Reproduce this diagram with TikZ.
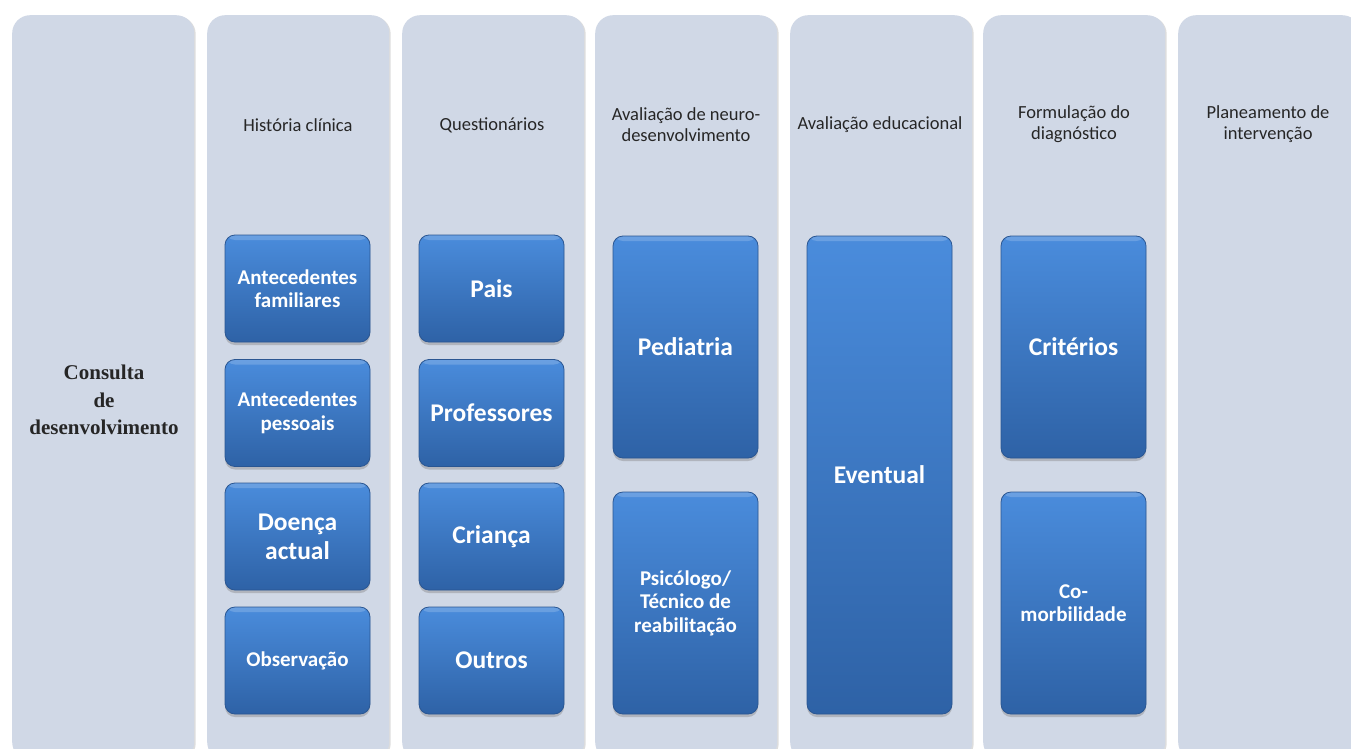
\documentclass[tikz,border=0pt]{standalone}
\usepackage{fontspec}
\setmainfont{Carlito}
\newfontfamily\serifbold{Liberation Serif}
\usetikzlibrary{shadows}
\definecolor{colbg}{HTML}{D0D8E6}
\definecolor{btop}{HTML}{4A8CDC}
\definecolor{bbot}{HTML}{2E62A6}
\definecolor{bedge}{HTML}{2A5692}
\definecolor{headtext}{HTML}{262626}
\tikzset{
  colbox/.style={fill=colbg, rounded corners=18pt, minimum width=182pt, minimum height=745pt,
    anchor=north west, inner sep=0pt,
    drop shadow={opacity=0.22, shadow xshift=1.5pt, shadow yshift=-1pt, fill=black!60}},
  bluebox/.style={rounded corners=10pt, minimum width=145pt, inner sep=2pt,
    top color=btop, bottom color=bbot, draw=bedge, line width=0.8pt,
    text=white, align=center,
    path picture={\fill[white,opacity=0.18] (path picture bounding box.north west) rectangle ([yshift=-5pt]path picture bounding box.north east);},
    drop shadow={opacity=0.4, shadow xshift=0pt, shadow yshift=-3pt}},
  smalltxt/.style={font=\bfseries\fontsize{21}{23.5}\selectfont},
  bigtxt/.style={font=\bfseries\fontsize{25.5}{29}\selectfont},
  head/.style={font=\fontsize{18.5}{21}\selectfont, text=headtext, align=center}
}
\begin{document}
\begin{tikzpicture}[x=1pt,y=-1pt]
\useasboundingbox (0,0) rectangle (1351,749);
\fill[white] (0,0) rectangle (1351,749);
\clip (0,0) rectangle (1351,749);
% columns
\node[colbox] (c1) at (12,15) {};
\node[colbox] (c2) at (207,15) {};
\node[colbox] (c3) at (402,15) {};
\node[colbox] (c4) at (595,15) {};
\node[colbox] (c5) at (790,15) {};
\node[colbox] (c6) at (983,15) {};
\node[colbox] (c7) at (1178,15) {};
% headers
\node[font=\serifbold\bfseries\fontsize{21}{27.5}\selectfont, text=headtext, align=center] (h1) at (104,400) {Consulta\\de\\desenvolvimento};
\node[head] (h2) at (298,125) {História clínica};
\node[head] (h3) at (492,125) {Questionários};
\node[head] (h4) at (686,124.5) {Avaliação de neuro-\\desenvolvimento};
\node[head] (h5) at (880,125) {Avaliação educacional};
\node[head] (h6) at (1074,124.5) {Formulação do\\diagnóstico};
\node[head] (h7) at (1268,124.5) {Planeamento de\\intervenção};
% column 2
\node[bluebox, smalltxt, minimum height=107pt] (b21) at (297.5,288.5) {Antecedentes\\familiares};
\node[bluebox, smalltxt, minimum height=107pt] (b22) at (297.5,413) {Antecedentes\\pessoais};
\node[bluebox, bigtxt, minimum height=107pt] (b23) at (297.5,536.5) {Doença\\actual};
\node[bluebox, smalltxt, minimum height=107pt] (b24) at (297.5,660.5) {Observação};
% column 3
\node[bluebox, bigtxt, minimum height=107pt] (b31) at (491.5,288.5) {Pais};
\node[bluebox, bigtxt, minimum height=107pt] (b32) at (491.5,413) {Professores};
\node[bluebox, bigtxt, minimum height=107pt] (b33) at (491.5,536.5) {Criança};
\node[bluebox, bigtxt, minimum height=107pt] (b34) at (491.5,660.5) {Outros};
% column 4
\node[bluebox, bigtxt, minimum height=222pt] (b41) at (685.5,347) {Pediatria};
\node[bluebox, smalltxt, minimum height=222pt] (b42) at (685.5,603) {Psicólogo/\\Técnico de\\reabilitação};
% column 5
\node[bluebox, bigtxt, minimum height=478pt] (b51) at (879.5,475) {Eventual};
% column 6
\node[bluebox, bigtxt, minimum height=222pt] (b61) at (1073.5,347) {Critérios};
\node[bluebox, smalltxt, minimum height=222pt] (b62) at (1073.5,603) {Co-\\morbilidade};
\end{tikzpicture}
\end{document}
